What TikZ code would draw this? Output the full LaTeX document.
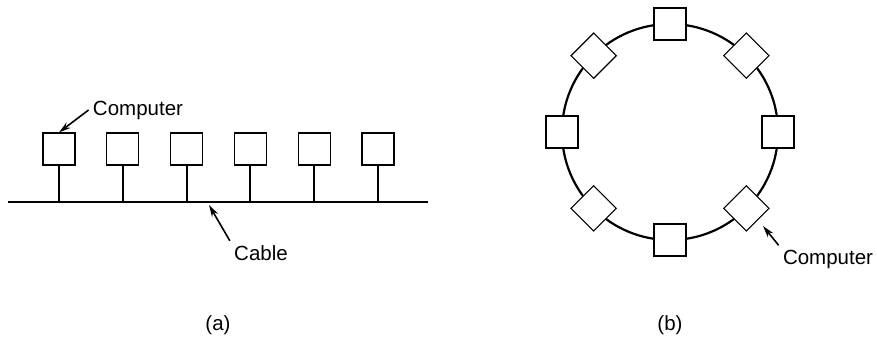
\documentclass[tikz,border=0pt]{standalone}
\usepackage{fontspec}
\setmainfont{Liberation Sans}
\usetikzlibrary{arrows.meta}
\tikzset{x=0.5pt, y=-0.5pt,
    every node/.style={
        font=\fontsize{10.25}{12}\selectfont},
    station/.style={
        draw,
        fill=white,
        line width=0.6pt,
        minimum size=16pt,
        inner sep=0pt},
    lbl/.style={
        anchor=base,
        inner sep=2pt},
    cable/.style={line width=1.4pt},
    stub/.style={line width=1pt},
    ring/.style={line width=1.1pt},
    pointer/.style={
        draw,
        -{Stealth[length=6pt,width=3.4pt]},
        line width=0.8pt}}

\begin{document}
\begin{tikzpicture}
        \useasboundingbox (0,0) rectangle (877,339);

        % (a) bus
        \coordinate (cableL) at (8,202);
        \coordinate (cableR) at (428,202);
        \coordinate (tap) at (209,205);
        \draw[cable] (cableL) -- (cableR);
        \foreach \i in {1,...,6} {
            \node[station] (b\i) at ({59+63.8*(\i-1)},149) {};
            \draw[stub] (b\i.south) -- (b\i.south |- cableL);
        }
        \node[lbl] (busComp) at (138,115) {Computer};
        \node[lbl] (busCable) at (261,260) {Cable};
        \draw[pointer] (busComp.west) -- (b1.north);
        \draw[pointer] (busCable.north west) -- (tap);
        \node[lbl] (capA) at (218,330) {(a)};

        % (b) ring
        \coordinate (ringc) at (670,132);
        \draw[ring] (ringc) circle (108);
        \foreach \a in {0,45,...,315}
            \node[station,rotate=\a] (r\a) at ({670+108*cos(\a)},{132+108*sin(\a)}) {};
        \coordinate (hit) at (763,226);
        \node[lbl] (ringComp) at (828,264) {Computer};
        \draw[pointer] (ringComp.north west) -- (hit);
        \node[lbl] (capB) at (670,330) {(b)};
    \end{tikzpicture}
\end{document}
